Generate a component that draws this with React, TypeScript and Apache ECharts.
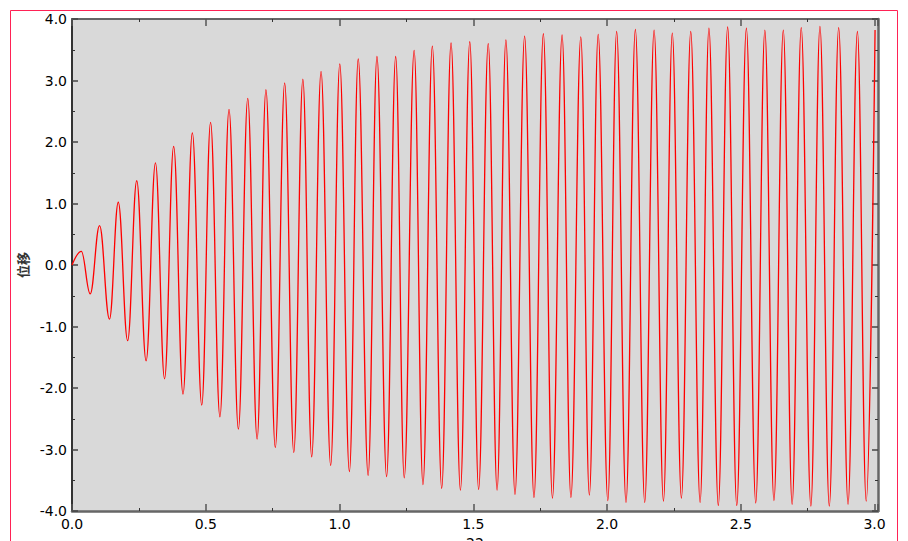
import React, { useEffect, useRef } from "react";
import * as echarts from "echarts";

// Extrema (time in s, displacement)
const timeValues: number[] = [
  0, 0.035, 0.068, 0.103, 0.14, 0.173, 0.208, 0.242, 0.277, 0.312, 0.346,
  0.38, 0.415, 0.45, 0.485, 0.518, 0.553, 0.587, 0.622, 0.657, 0.692,
  0.725, 0.76, 0.795, 0.829, 0.863, 0.896, 0.931, 0.967, 1.001, 1.037,
  1.07, 1.107, 1.14, 1.176, 1.21, 1.242, 1.279, 1.312, 1.347, 1.382,
  1.417, 1.452, 1.487, 1.52, 1.556, 1.589, 1.622, 1.656, 1.692, 1.727,
  1.762, 1.796, 1.832, 1.865, 1.902, 1.934, 1.967, 2.003, 2.036, 2.071,
  2.106, 2.141, 2.176, 2.211, 2.244, 2.278, 2.313, 2.348, 2.381, 2.416,
  2.451, 2.485, 2.521, 2.556, 2.59, 2.624, 2.659, 2.692, 2.726, 2.762,
  2.796, 2.831, 2.866, 2.901, 2.936, 2.969, 3.002,
];

const displacementValues: number[] = [
  0, 0.22, -0.47, 0.64, -0.88, 1.02, -1.23, 1.37, -1.56, 1.66, -1.85,
  1.93, -2.1, 2.15, -2.28, 2.32, -2.47, 2.53, -2.67, 2.71, -2.83,
  2.85, -2.97, 2.96, -3.05, 3.02, -3.12, 3.15, -3.26, 3.27, -3.36,
  3.35, -3.42, 3.39, -3.44, 3.39, -3.46, 3.49, -3.57, 3.56, -3.63,
  3.61, -3.66, 3.63, -3.65, 3.6, -3.66, 3.66, -3.73, 3.72, -3.78,
  3.76, -3.79, 3.74, -3.78, 3.71, -3.74, 3.75, -3.83, 3.8, -3.86,
  3.83, -3.86, 3.82, -3.84, 3.77, -3.79, 3.8, -3.86, 3.85, -3.91,
  3.87, -3.91, 3.85, -3.87, 3.82, -3.83, 3.82, -3.89, 3.86, -3.92,
  3.88, -3.92, 3.86, -3.89, 3.8, -3.84, 3.82,
];

const xAxisName = "22";
const yAxisName = "位移";

export default function App() {
  const ref = useRef<HTMLDivElement>(null);

  useEffect(() => {
    if (!ref.current) return;
    const chart = echarts.init(ref.current, null, { renderer: "svg" });
    const data = timeValues.map((t, i) => [t, displacementValues[i]]);
    const labelFont = {
      fontFamily: "DejaVu Sans",
      fontSize: 14,
      color: "#000",
    };
    const xFmt = (v: number) =>
      Math.abs(v * 2 - Math.round(v * 2)) < 1e-6 ? v.toFixed(1) : "";
    const yFmt = (v: number) =>
      Math.abs(v - Math.round(v)) < 1e-6 ? v.toFixed(1) : "";

    const commonX = {
      type: "value" as const,
      min: 0,
      max: 3.013,
      interval: 0.5,
      splitLine: { show: false },
      minorTick: { show: true, splitNumber: 2, length: 3, lineStyle: { color: "#333", width: 1 } },
      axisTick: { show: true, inside: true, length: 7, lineStyle: { color: "#555", width: 1.5 } },
    };
    const commonY = {
      type: "value" as const,
      min: -4,
      max: 4,
      interval: 1,
      splitLine: { show: false },
      minorTick: { show: true, splitNumber: 2, length: 3, lineStyle: { color: "#333", width: 1 } },
      axisTick: { show: true, inside: true, length: 6, lineStyle: { color: "#444", width: 1.5 } },
    };

    chart.setOption({
      animation: false,
      backgroundColor: "#ffffff",
      grid: {
        left: 72,
        top: 19,
        width: 806,
        height: 492,
        show: true,
        backgroundColor: "#d9d9d9",
        borderWidth: 0,
        containLabel: false,
        outerBoundsMode: "none",
      },
      graphic: [
        {
          type: "rect",
          shape: { x: 10.5, y: 10.5, width: 887, height: 580 },
          style: { fill: "none", stroke: "#ff2255", lineWidth: 1 },
          silent: true,
        },
      ],
      xAxis: [
        {
          ...commonX,
          position: "bottom",
          name: xAxisName,
          nameLocation: "middle",
          nameGap: 22,
          nameTextStyle: { ...labelFont, color: "#000" },
          axisLine: { show: true, onZero: false, lineStyle: { color: "#666", width: 2.5 } },
          axisLabel: { ...labelFont, margin: 6, formatter: xFmt, showMaxLabel: false },
        },
        {
          ...commonX,
          position: "top",
          axisLine: { show: true, onZero: false, lineStyle: { color: "#666", width: 2 } },
          axisLabel: { show: false },
        },
      ],
      yAxis: [
        {
          ...commonY,
          position: "left",
          name: yAxisName,
          nameLocation: "middle",
          nameGap: 43,
          nameTextStyle: {
            fontFamily: "Noto Sans CJK SC",
            fontSize: 13,
            fontWeight: "bold",
            color: "#333",
          },
          axisLine: { show: true, onZero: false, lineStyle: { color: "#333", width: 2 } },
          axisLabel: { ...labelFont, margin: 5, formatter: yFmt },
        },
        {
          ...commonY,
          position: "right",
          axisLine: { show: true, onZero: false, lineStyle: { color: "#666", width: 2.5 } },
          axisLabel: { show: false },
        },
      ],
      series: [
        {
          type: "line",
          xAxisIndex: 0,
          yAxisIndex: 0,
          data,
          showSymbol: false,
          symbol: "none",
          smooth: 0.4,
          smoothMonotone: "x",
          clip: true,
          lineStyle: { color: "#ff0000", width: 1.3 },
        },
      ],
    });
    return () => chart.dispose();
  }, []);

  return (
    <div
      ref={ref}
      style={{ position: "fixed", left: 0, top: 0, width: 908, height: 541 }}
    />
  );
}
